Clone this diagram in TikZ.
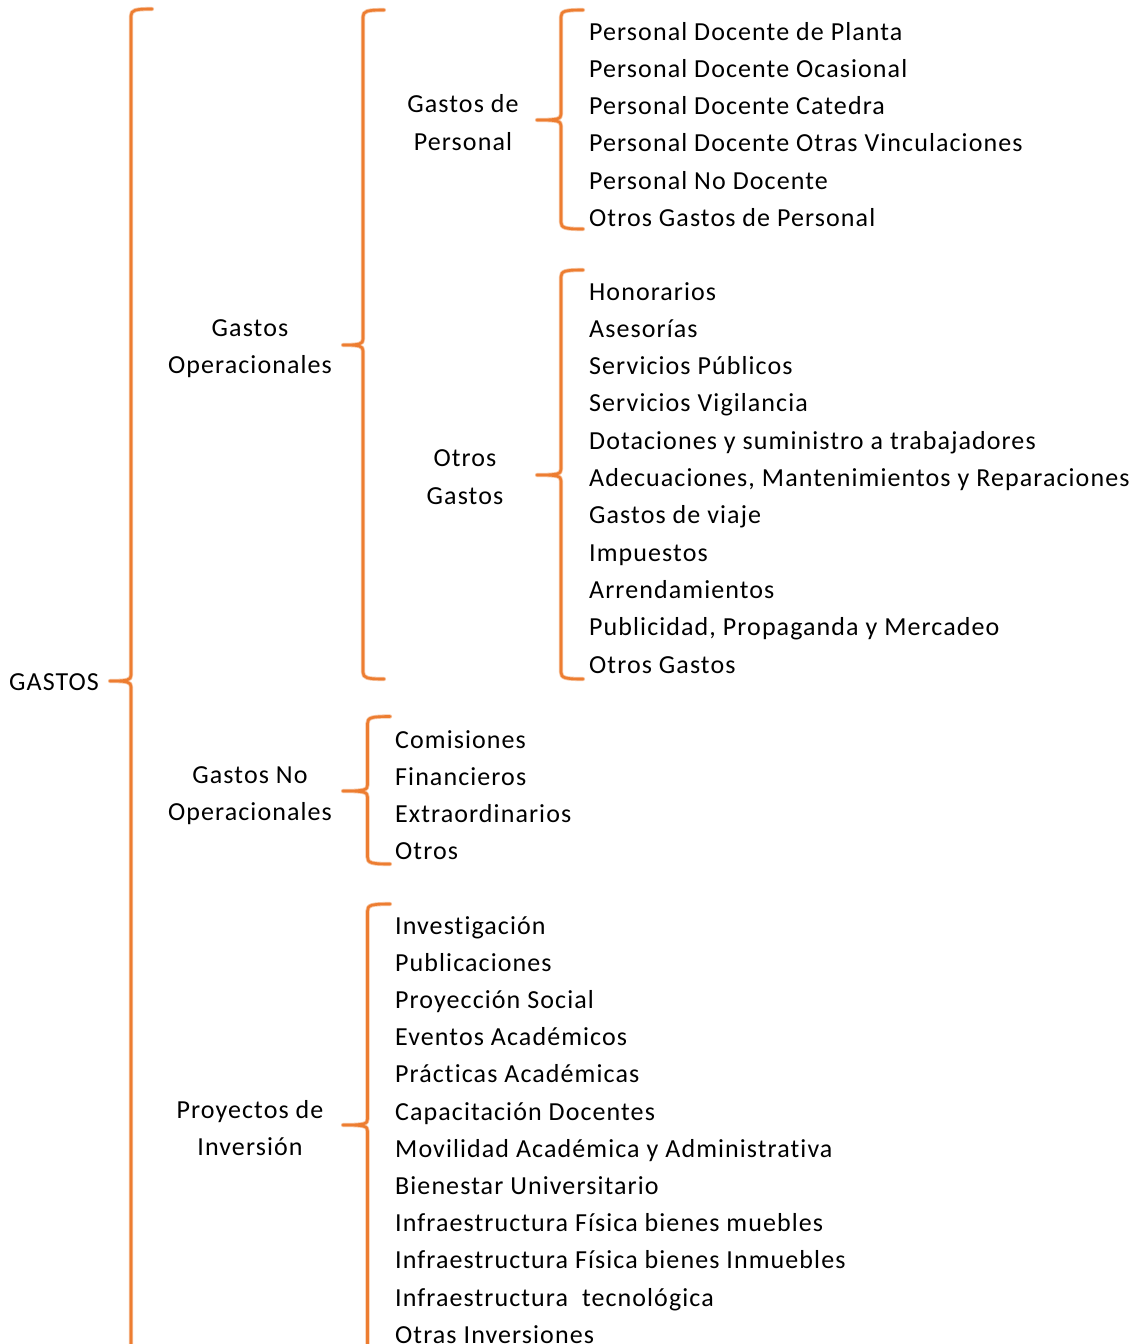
\documentclass[tikz,border=0pt]{standalone}
\usepackage{fontspec}
\setmainfont[LetterSpace=4.2,Ligatures=NoCommon,RawFeature=-liga]{Carlito}
\definecolor{braceorange}{RGB}{237,125,49}
\tikzset{
  item/.style={anchor=base west, inner sep=0pt, font=\fontsize{26}{37}\selectfont},
  head/.style={anchor=base, inner sep=0pt, font=\fontsize{26}{37}\selectfont},
  braceglow/.style={draw=braceorange!45!white, line width=4.2pt, line cap=round, line join=round},
  bracecore/.style={draw=braceorange, line width=2.6pt, line cap=round, line join=round},
}
% #1 spine x, #2 top y, #3 tip y, #4 bottom y, #5 tip x, #6 end x
\newcommand\curlybrace[6]{%
  \foreach \sty in {braceglow,bracecore}{%
    \path[\sty] (#6,#2) .. controls (#1+4,#2) and (#1,#2+1) .. (#1,#2+7)
      -- (#1,#3-6) .. controls (#1,#3-1) and (#1-3,#3) .. (#5,#3)
      .. controls (#1-3,#3) and (#1,#3+1) .. (#1,#3+6)
      -- (#1,#4-7) .. controls (#1,#4-1) and (#1+4,#4) .. (#6,#4);
  }%
}
\begin{document}
\begin{tikzpicture}[x=1pt,y=-1pt]
\useasboundingbox (0,0) rectangle (1136,1344);
\clip (0,0) rectangle (1136,1344);
\fill[white] (0,0) rectangle (1136,1344);

% braces
\curlybrace{131}{9}{681}{1380}{110}{152}
\curlybrace{363}{10}{345}{679}{343}{384}
\curlybrace{561}{10}{120}{229}{537}{583}
\curlybrace{561}{270}{475}{679}{537}{583}
\curlybrace{367.5}{716.5}{791}{864}{343}{390}
\curlybrace{367.5}{904}{1125}{1380}{343}{390}

% root
\node[item] (root) at (9,690) {GASTOS};

% second level
\node[head] (op1) at (250,336) {Gastos};
\node[head] (op2) at (250,373) {Operacionales};
\node[head] (nop1) at (250,783) {Gastos No};
\node[head] (nop2) at (250,820) {Operacionales};
\node[head] (inv1) at (250,1118) {Proyectos de};
\node[head] (inv2) at (250,1155.5) {Inversión};

% third level
\node[head] (gp1) at (463,112) {Gastos de};
\node[head] (gp2) at (463,150) {Personal};
\node[head] (og1) at (465,466) {Otros};
\node[head] (og2) at (465,504) {Gastos};

% personal items
\foreach \t [count=\i from 0] in {Personal Docente de Planta, Personal Docente Ocasional, Personal Docente Catedra, Personal Docente Otras Vinculaciones, Personal No Docente, Otros Gastos de Personal}
  \node[item] (p\i) at (589,40+37.3*\i) {\t};

% other expense items
\foreach \t [count=\i from 0] in {Honorarios, Asesorías, Servicios Públicos, Servicios Vigilancia, Dotaciones y suministro a trabajadores, {Adecuaciones, Mantenimientos y Reparaciones}, Gastos de viaje, Impuestos, Arrendamientos, {Publicidad, Propaganda y Mercadeo}, Otros Gastos}
  \node[item] (o\i) at (589,300+37.3*\i) {\t};

% non-operating items
\foreach \t [count=\i from 0] in {Comisiones, Financieros, Extraordinarios, Otros}
  \node[item] (n\i) at (395,748+37*\i) {\t};

% investment items
\foreach \t [count=\i from 0] in {Investigación, Publicaciones, Proyección Social, Eventos Académicos, Prácticas Académicas, Capacitación Docentes, Movilidad Académica y Administrativa, Bienestar Universitario, Infraestructura Física bienes muebles, Infraestructura Física bienes Inmuebles, Infraestructura\ \ tecnológica, Otras Inversiones}
  \node[item] (v\i) at (395,934+37.2*\i) {\t};
\end{tikzpicture}
\end{document}
